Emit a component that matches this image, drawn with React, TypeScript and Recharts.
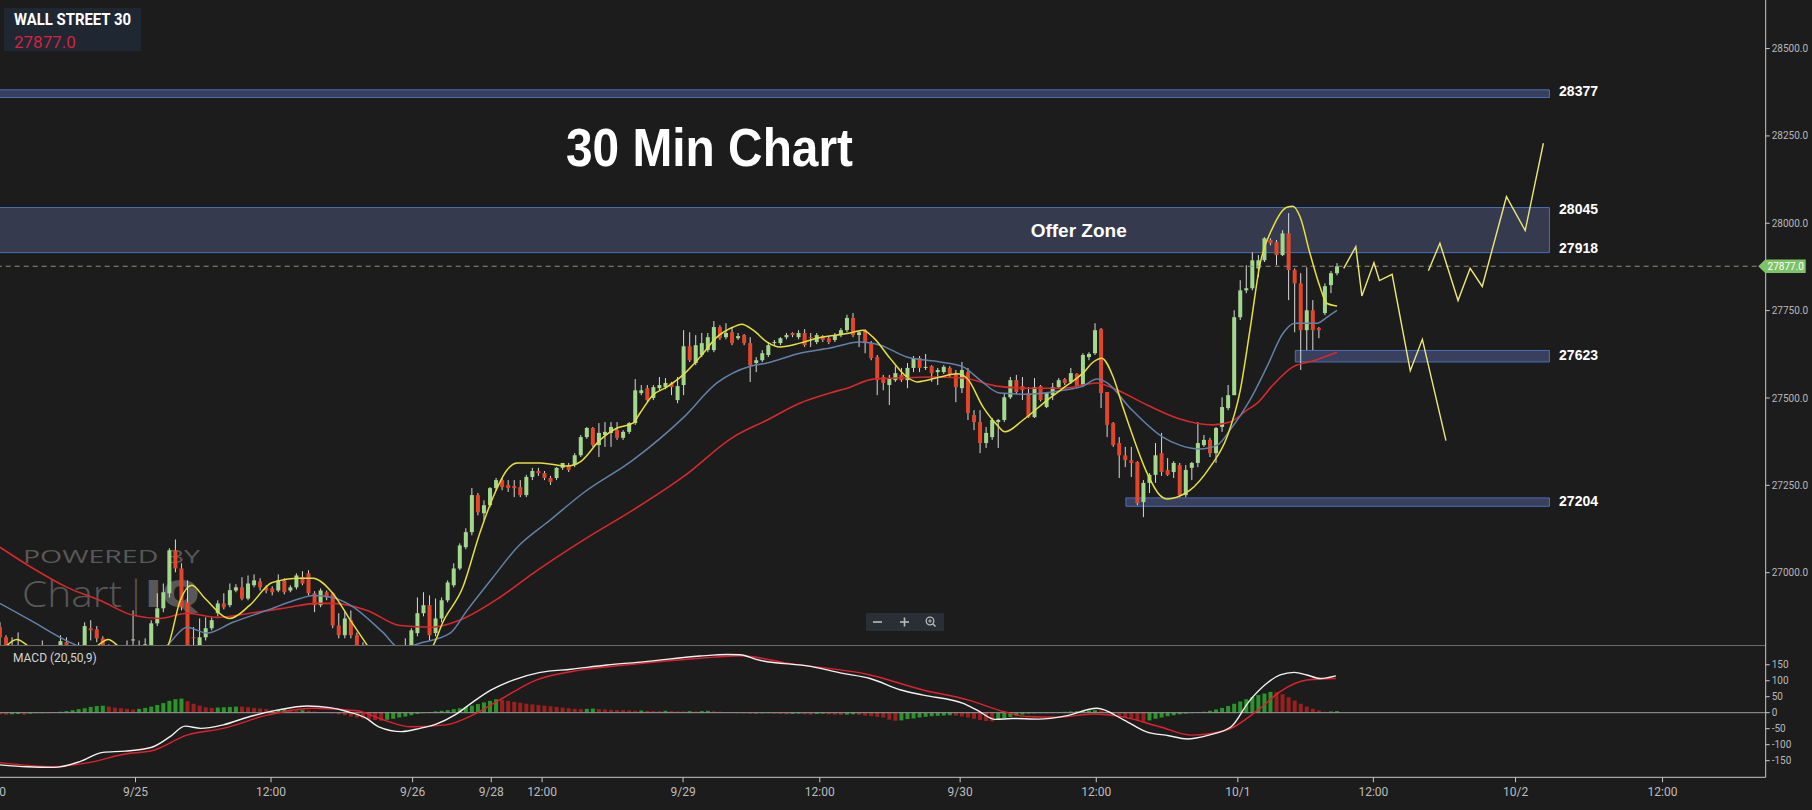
import React from 'react';
import { ComposedChart, Bar, Line, XAxis, YAxis, ReferenceArea, ReferenceLine, ReferenceDot, Cell } from 'recharts';

// ---------- data ----------
// 30-min candles: [open, high, low, close]
const candles: number[][] = [
  [26844,26858,26778,26815],[26815,26821,26764,26784],[26772,26815,26749,26789],[26764,26829,26735,26784],[26778,26792,26735,26764],
  [26764,26784,26721,26749],[26749,26778,26721,26764],[26764,26806,26735,26778],[26778,26792,26744,26764],[26764,26789,26735,26778],
  [26778,26821,26764,26804],[26801,26815,26764,26784],[26784,26792,26749,26772],[26772,26801,26744,26784],[26784,26858,26764,26847],
  [26841,26864,26806,26835],[26838,26847,26801,26812],[26812,26818,26772,26786],[26786,26795,26749,26772],[26772,26784,26735,26761],
  [26761,26784,26726,26772],[26772,26806,26749,26784],[26806,26892,26778,26809],[26792,26806,26749,26778],[26778,26812,26755,26795],
  [26789,26864,26778,26855],[26855,26941,26847,26898],[26898,26969,26887,26944],[26941,27070,26929,27064],[27064,27095,27001,27012],
  [27012,27027,26892,26901],[26915,26978,26772,26786],[26815,26844,26778,26812],[26792,26869,26778,26815],[26815,26872,26806,26841],
  [26841,26872,26835,26864],[26884,26921,26875,26912],[26912,26941,26895,26901],[26907,26969,26901,26950],[26949,26967,26944,26958],
  [26958,26987,26921,26926],[26926,26992,26921,26969],[26964,26995,26958,26978],[26975,26984,26949,26958],[26958,26964,26941,26949],
  [26955,26961,26935,26944],[26949,26995,26944,26978],[26978,26984,26938,26944],[26949,26964,26944,26958],[26958,26998,26952,26992],
  [26987,27004,26964,26969],[26998,27007,26935,26941],[26941,26947,26887,26907],[26907,26955,26901,26949],[26944,26949,26921,26929],
  [26941,26944,26841,26849],[26849,26884,26812,26821],[26821,26889,26812,26869],[26864,26892,26812,26821],[26821,26829,26772,26786],
  [26786,26801,26735,26749],[26749,26772,26706,26726],[26726,26764,26698,26744],[26744,26761,26692,26721],[26721,26749,26698,26735],
  [26735,26772,26715,26749],[26749,26784,26735,26772],[26772,26812,26755,26784],[26792,26841,26784,26835],[26827,26929,26818,26884],
  [26884,26944,26875,26907],[26907,26935,26806,26821],[26827,26926,26818,26869],[26869,26929,26858,26921],[26921,26978,26915,26972],
  [26964,27027,26958,27012],[27012,27084,27007,27078],[27073,27127,27067,27116],[27116,27242,27107,27222],[27222,27228,27164,27173],
  [27170,27207,27150,27193],[27193,27245,27187,27242],[27242,27271,27236,27265],[27265,27271,27236,27245],[27251,27265,27231,27242],
  [27248,27265,27216,27242],[27245,27265,27216,27222],[27222,27280,27216,27274],[27274,27300,27265,27291],[27291,27300,27277,27285],
  [27285,27291,27265,27271],[27271,27277,27251,27260],[27271,27302,27265,27300],[27300,27314,27294,27314],[27308,27314,27288,27294],
  [27308,27342,27302,27336],[27336,27394,27331,27388],[27388,27417,27383,27414],[27414,27417,27360,27365],[27365,27428,27331,27400],
  [27394,27431,27360,27403],[27400,27431,27360,27417],[27408,27431,27380,27386],[27386,27408,27380,27403],[27403,27431,27397,27428],
  [27428,27554,27423,27522],[27514,27537,27508,27522],[27528,27537,27488,27494],[27500,27537,27494,27531],[27528,27560,27522,27537],
  [27531,27557,27525,27543],[27543,27546,27508,27531],[27494,27560,27485,27534],[27537,27694,27508,27648],[27648,27688,27603,27608],
  [27600,27680,27594,27651],[27623,27686,27617,27657],[27637,27686,27631,27674],[27637,27720,27631,27703],[27703,27708,27666,27671],
  [27674,27714,27668,27686],[27688,27700,27651,27657],[27671,27686,27666,27677],[27680,27683,27651,27657],[27657,27674,27546,27594],
  [27600,27617,27574,27608],[27608,27637,27603,27628],[27623,27660,27617,27651],[27657,27666,27651,27660],[27657,27674,27651,27671],
  [27674,27686,27668,27680],[27686,27688,27674,27680],[27674,27694,27668,27686],[27686,27697,27646,27651],[27674,27686,27646,27671],
  [27660,27686,27654,27680],[27677,27680,27660,27666],[27671,27677,27654,27660],[27666,27686,27660,27680],[27680,27700,27674,27694],
  [27694,27738,27688,27729],[27729,27743,27674,27680],[27680,27694,27646,27688],[27694,27697,27628,27657],[27657,27663,27608,27614],
  [27617,27623,27508,27551],[27560,27566,27522,27543],[27537,27566,27480,27557],[27551,27591,27546,27571],[27566,27586,27546,27551],
  [27551,27600,27528,27586],[27586,27620,27574,27614],[27614,27620,27574,27586],[27586,27626,27580,27589],[27591,27594,27546,27571],
  [27574,27586,27537,27580],[27574,27594,27569,27589],[27586,27591,27560,27566],[27571,27580,27488,27531],[27528,27603,27514,27580],
  [27574,27586,27437,27457],[27451,27465,27408,27431],[27431,27465,27342,27371],[27371,27417,27357,27400],[27388,27443,27380,27437],
  [27431,27440,27357,27437],[27437,27514,27431,27502],[27502,27560,27497,27551],[27551,27566,27511,27517],[27534,27560,27494,27522],
  [27514,27531,27443,27445],[27445,27557,27443,27531],[27534,27537,27490,27494],[27474,27517,27471,27514],[27508,27543,27494,27531],
  [27531,27557,27528,27551],[27554,27557,27537,27543],[27546,27586,27540,27571],[27569,27571,27528,27531],[27537,27628,27531,27623],
  [27617,27631,27608,27626],[27628,27714,27623,27694],[27697,27700,27471,27514],[27517,27517,27388,27423],[27428,27431,27360,27365],
  [27371,27388,27271,27336],[27336,27360,27302,27322],[27322,27360,27274,27314],[27317,27319,27193,27199],[27202,27265,27159,27257],
  [27257,27285,27228,27280],[27280,27371,27257,27336],[27342,27400,27277,27288],[27294,27328,27277,27280],[27288,27319,27271,27314],
  [27308,27314,27216,27222],[27222,27308,27216,27294],[27300,27317,27265,27314],[27314,27431,27302,27371],[27365,27394,27360,27380],
  [27380,27386,27331,27342],[27342,27417,27314,27414],[27417,27502,27403,27474],[27471,27537,27465,27508],[27508,27751,27508,27731],
  [27731,27837,27723,27808],[27808,27880,27800,27814],[27814,27917,27808,27894],[27871,27909,27846,27894],[27894,27960,27889,27957],
  [27952,27957,27937,27943],[27946,27952,27880,27909],[27909,27980,27906,27971],[27971,28029,27780,27866],[27866,27871,27688,27828],
  [27828,27857,27580,27694],[27694,27874,27637,27751],[27751,27780,27637,27694],[27700,27703,27671,27694],[27743,27828,27737,27820],
  [27823,27863,27800,27857],[27857,27886,27851,27877],
];

// moving averages: [bar index, price]
const yellowMA: number[][] = [
  [0,26764],[1.2,26792],[2.8,26809],[4.5,26792],[7.4,26744],[12.4,26749],[15.7,26786],[17.9,26809],[19.8,26786],[23.1,26749],
  [26.4,26764],[27.8,26792],[29.8,26921],[31.7,26964],[33.9,26926],[38,26869],[41.3,26907],[45,26972],[49.6,26984],[51.7,26984],
  [55,26941],[57.9,26864],[60.7,26792],[62.8,26735],[67.8,26735],[71.6,26792],[73.2,26858],[76.5,26958],[79.3,27113],[81.5,27216],
  [83.8,27294],[85.5,27314],[89.3,27314],[93.7,27305],[95.9,27317],[99.2,27380],[102,27414],[104.6,27428],[105.8,27457],[107.9,27508],
  [110.2,27531],[112.9,27566],[115.7,27617],[118.5,27674],[121.2,27703],[122.6,27711],[124.5,27694],[126.8,27660],[128.9,27646],[132.2,27657],
  [135,27671],[140.5,27686],[142.6,27694],[144.3,27674],[147.1,27614],[149.9,27560],[151.6,27546],[155.4,27560],[158.2,27569],[159.8,27557],
  [162.5,27474],[164.8,27423],[166.1,27403],[169.1,27437],[173.1,27494],[176.9,27543],[179,27571],[180.7,27603],[182.1,27614],[184,27560],
  [185.6,27474],[187.3,27388],[189.6,27285],[191.7,27222],[192.9,27211],[194.5,27216],[196.7,27236],[200,27302],[202.8,27388],[205,27522],
  [206.6,27694],[208.3,27886],[210.4,27989],[212.7,28046],[213.7,28049],[214.9,28018],[216.5,27915],[218.2,27817],[219.3,27771],[221,27763],
];
const blueMA: number[][] = [
  [0,26912],[5,26864],[9.9,26815],[13.7,26784],[19.8,26749],[24.8,26764],[27.6,26792],[30.9,26844],[34.2,26827],[38.5,26858],
  [44.1,26892],[49.6,26926],[51.7,26935],[55,26929],[57.9,26907],[63.3,26829],[66.1,26784],[69.4,26798],[74.4,26827],[77.2,26892],
  [81.5,26987],[85.5,27073],[90.9,27150],[96.4,27228],[104.6,27322],[112.9,27443],[118.5,27543],[124,27591],[126.8,27600],[132.2,27628],
  [137.2,27643],[142.1,27660],[145.5,27651],[149.9,27617],[155.4,27603],[159.2,27589],[162,27551],[165.3,27514],[170.2,27511],[175.7,27522],
  [179,27534],[181.3,27554],[183,27543],[186.8,27471],[192.2,27388],[195,27365],[198.3,27354],[201.2,27365],[203.3,27408],[206.6,27494],
  [209.4,27589],[212.1,27686],[214,27714],[217.7,27714],[219.3,27731],[221,27751],
];
const redMA: number[][] = [
  [0,27073],[5.5,27012],[11.1,26958],[16.5,26921],[22,26878],[26.4,26869],[30.9,26884],[35.9,26872],[41.3,26884],[46.8,26898],
  [52.4,26912],[55,26912],[60.7,26892],[66.1,26849],[71.6,26844],[76,26864],[82.6,26929],[88.1,26998],[96.4,27093],[104.6,27179],
  [112.9,27274],[121.2,27388],[126.8,27437],[132.2,27485],[137.2,27514],[140.5,27531],[144.3,27554],[148.3,27557],[153.7,27560],[159.2,27557],
  [164.8,27534],[170.2,27528],[175.7,27528],[181.3,27543],[184,27528],[189.6,27480],[195,27440],[200.5,27423],[203.3,27431],[206.1,27465],
  [207.8,27485],[210.4,27537],[213.7,27589],[217,27606],[221,27631],
];

// hand-drawn projection paths: [bar index, price]
const projectionA: number[][] = [
  [222.1,27871],[224.1,27933],[225.1,27792],[227.1,27887],[228,27836],[230.1,27854],[233.1,27578],[235.1,27668],[239,27378],
];
const projectionB: number[][] = [
  [236.1,27864],[238,27943],[241,27779],[243,27871],[245,27819],[249,28076],[252.1,27979],[255.1,28229],
];

// MACD (20,50,9)
const macdLine: number[][] = [
  [0,-163],[4.5,-169],[8.9,-171],[13.2,-153],[17,-124],[20.7,-120],[25.1,-108],[28.1,-75],[30.6,-42],[33.2,-49],
  [36.9,-38],[41.3,-12],[45.8,8],[50.9,21],[54.5,16],[57.5,3],[60.5,-17],[62.6,-44],[66.4,-59],[69.4,-49],
  [72.2,-35],[75.2,-7],[78.2,34],[81.2,71],[84.8,102],[89.3,126],[94.4,136],[100.3,149],[106.3,159],[115.7,177],
  [120.2,182],[122.3,181],[125.3,165],[134.2,144],[139.3,123],[143.8,107],[148.9,71],[152.6,55],[159.2,29],[161.5,8],
  [164.5,-21],[167.3,-18],[171.7,-20],[176.2,-10],[181.3,14],[185.8,-23],[189.4,-59],[193.2,-72],[196.2,-82],[199.8,-70],
  [203.5,-44],[206.4,34],[209.4,92],[211.6,118],[213.9,126],[216,118],[218.2,107],[220.8,115],
];
const signalLine: number[][] = [
  [0,-156],[8.9,-169],[14.7,-156],[20.7,-129],[25.1,-119],[30.9,-70],[36.9,-49],[44.3,-7],[51.6,14],[59,6],
  [63.5,-23],[67.9,-44],[73.7,-38],[78.2,-7],[82.6,40],[88.6,102],[95.9,133],[103.3,149],[115.7,170],[122.3,178],
  [130.4,154],[143.8,118],[152.6,71],[160,40],[166,3],[169.6,-12],[174.7,-14],[180.7,-4],[185.8,-14],[191.7,-44],
  [196.9,-70],[202.8,-54],[207.9,8],[211.6,66],[216,102],[220.8,107],
];
const macdHist: number[] = [
  -5,-6,-5,-4,-6,-3,-1,0,0,1,
  3,5,8,11,14,18,21,22,19,16,
  14,12,10,12,15,19,24,30,37,42,
  44,36,28,22,17,15,16,17,18,19,
  19,17,15,13,11,9,10,11,9,7,
  8,6,4,2,1,-2,-5,-8,-12,-15,
  -18,-21,-23,-25,-22,-19,-15,-12,-8,-4,
  -1,2,4,6,8,11,14,18,22,27,
  32,37,42,40,37,34,31,28,26,24,
  22,20,18,16,14,12,11,12,13,11,
  10,9,8,8,7,6,7,6,5,5,
  6,5,4,4,5,4,5,6,4,3,
  2,1,-1,-2,-3,-4,-2,-1,-3,-4,
  -5,-4,-3,-5,-6,-4,-3,-5,-6,-7,
  -6,-5,-7,-9,-11,-13,-15,-22,-25,-24,
  -20,-18,-15,-13,-11,-10,-9,-8,-9,-12,
  -15,-19,-23,-26,-27,-22,-17,-13,-9,-6,
  -3,-2,-1,0,1,2,3,4,5,6,
  7,8,6,2,-4,-9,-14,-18,-23,-28,
  -24,-19,-15,-11,-8,-5,-3,-1,1,3,
  6,10,15,21,28,35,42,49,55,60,
  65,64,58,48,38,28,19,12,7,3,
  4,5,
];

// axis ticks
const timeTickPos = [22.4, 44.8, 68.2, 81.2, 89.6, 112.9, 135.5, 158.7, 181.2, 204.6, 227.0, 250.5, 274.8];
const timeTickLabels = ['9/25', '12:00', '9/26', '9/28', '12:00', '9/29', '12:00', '9/30', '12:00', '10/1', '12:00', '10/2', '12:00'];
const priceTicks = [27000, 27250, 27500, 27750, 28000, 28250, 28500];
const macdTicks = [-150, -100, -50, 0, 50, 100, 150];

// zones: [x1, x2, lowPrice, highPrice]
const zoneBands: number[][] = [
  [-3, 256.1, 28360, 28382],
  [-3, 256.1, 27916, 28045],
  [214.1, 256.1, 27603, 27636],
  [186.1, 256.1, 27190, 27214],
];
const levelLabels = ['28377', '28045', '27918', '27623', '27204'];
const levelLabelPrices = [28377, 28040, 27928, 27623, 27204];
const lastPrice = 27877;

// ---------- layout ----------
const W = 1812;
const MAIN_H = 645;
const MACD_H = 165;
const AXIS_W = 46.3;
const X_MAX = 291.85;
const Y_MIN = 26793;
const Y_MAX = 28639;
const M_MIN = -201.9;
const M_MAX = 211.6;
const LABEL_X = 257.7;

const BG = '#1c1c1c';
const AXIS_COLOR = '#c9c9c9';
const TICK_FONT = { fill: '#b8b8b8', fontSize: 10, fontFamily: 'Roboto' };

const candleData = candles.map(([o, h, l, c], i) => ({ t: i, o, h, l, c, range: [l, h] }));
const pts = (arr: number[][]) => arr.map(([t, v]) => ({ t, v }));
const histData = macdHist.map((h, i) => ({ t: i, h }));

const CandleShape = (props: any) => {
  const { x, y, width, height, payload } = props;
  if (!payload || x == null || y == null) return null;
  const { o, h, l, c } = payload;
  const top = Math.min(y, y + height);
  const bottom = Math.max(y, y + height);
  const span = h - l;
  const toY = (p: number) => (span === 0 ? top : top + ((h - p) / span) * (bottom - top));
  const cx = x + width / 2;
  const up = c >= o;
  const bTop = toY(Math.max(o, c));
  const bBot = toY(Math.min(o, c));
  return (
    <g>
      <line x1={cx} x2={cx} y1={top} y2={bottom} stroke="#d9d9d9" strokeWidth={1} />
      <rect x={cx - 2} y={bTop} width={4} height={Math.max(1, bBot - bTop)} fill={up ? '#a2d88c' : '#e2452a'} />
    </g>
  );
};

const HistShape = (props: any) => {
  const { x, y, width, height, fill } = props;
  if (x == null || y == null) return null;
  const top = Math.min(y, y + height);
  const h = Math.abs(height);
  const cx = x + width / 2;
  return <rect x={cx - 2} y={top} width={4} height={Math.max(0.5, h)} fill={fill} />;
};

const levelText = (text: string) => (p: any) => (
  <text x={p.cx} y={p.cy} dy="0.35em" fill="#ffffff" fontSize={14} fontWeight={700} fontFamily="Liberation Sans, Arial, sans-serif">
    {text}
  </text>
);

const priceTag = (p: any) => {
  const x = p.cx;
  const y = p.cy;
  return (
    <g>
      <polygon
        points={`${x - 7.5},${y} ${x - 0.5},${y - 6.8} ${x + 40},${y - 6.8} ${x + 40},${y + 6.8} ${x - 0.5},${y + 6.8}`}
        fill="#7cc466"
      />
      <text x={x + 20} y={y} dy="0.35em" textAnchor="middle" fill="#ffffff" fontSize={10} fontFamily="Roboto">
        {lastPrice.toFixed(1)}
      </text>
    </g>
  );
};

const lineCommon = { dot: false, activeDot: false, isAnimationActive: false } as const;

export default function App() {
  return (
    <div style={{ position: 'relative', width: W, height: 810, background: BG, overflow: 'hidden' }}>
      <style>{`body{margin:0;background:${BG};}`}</style>

      {/* watermark (behind the chart) */}
      <svg style={{ position: 'absolute', left: 0, top: 0 }} width={W} height={810}>
        <text x={23} y={563} fill="#585858" fontSize={19} fontFamily="Open Sans" textLength={177} lengthAdjust="spacingAndGlyphs">
          POWERED BY
        </text>
        <text x={22} y={607} fill="#585858" fontSize={37} fontWeight={300} fontFamily="Open Sans">
          <tspan textLength={100} lengthAdjust="spacingAndGlyphs">Chart</tspan>
          <tspan x={126}>|</tspan>
          <tspan x={145} fontWeight={800} textLength={55} lengthAdjust="spacingAndGlyphs">IQ</tspan>
        </text>
      </svg>

      {/* price panel */}
      <div style={{ position: 'absolute', left: 0, top: 0 }}>
        <ComposedChart width={W} height={MAIN_H} data={candleData} margin={{ top: 0, right: 0, bottom: 0, left: 0 }}>
          <XAxis dataKey="t" type="number" domain={[0, X_MAX]} allowDataOverflow hide />
          <YAxis
            orientation="right"
            type="number"
            domain={[Y_MIN, Y_MAX]}
            allowDataOverflow
            ticks={priceTicks}
            interval={0}
            width={AXIS_W}
            tickFormatter={(v: number) => v.toFixed(1)}
            axisLine={{ stroke: AXIS_COLOR }}
            tickLine={{ stroke: AXIS_COLOR }}
            tickSize={4}
            tickMargin={2}
            tick={TICK_FONT}
          />
          {zoneBands.map(([x1, x2, y1, y2], i) => (
            <ReferenceArea
              key={`z${i}`}
              x1={x1}
              x2={x2}
              y1={y1}
              y2={y2}
              ifOverflow="hidden"
              fill={i === 1 ? '#3a3f57' : '#3d4768'}
              fillOpacity={0.85}
              stroke="#4b6fb6"
              strokeWidth={1}
            />
          ))}
          <ReferenceLine y={lastPrice} stroke="#8e8e80" strokeDasharray="5 4" strokeWidth={1} />
          <Bar dataKey="range" barSize={5} isAnimationActive={false} shape={(p: any) => <CandleShape {...p} />} />
          <Line data={pts(redMA)} dataKey="v" type="monotone" stroke="#d8282c" strokeWidth={1.6} {...lineCommon} />
          <Line data={pts(blueMA)} dataKey="v" type="monotone" stroke="#6381a8" strokeWidth={1.5} {...lineCommon} />
          <Line data={pts(yellowMA)} dataKey="v" type="monotone" stroke="#e6e03c" strokeWidth={1.5} {...lineCommon} />
          <Line data={pts(projectionA)} dataKey="v" type="linear" stroke="#ece878" strokeWidth={1.4} {...lineCommon} />
          <Line data={pts(projectionB)} dataKey="v" type="linear" stroke="#ece878" strokeWidth={1.4} {...lineCommon} />
          {levelLabels.map((txt, i) => (
            <ReferenceDot key={`l${i}`} x={LABEL_X} y={levelLabelPrices[i]} r={0} ifOverflow="visible" shape={levelText(txt)} />
          ))}
          <ReferenceDot
            x={178.3}
            y={27980}
            r={0}
            ifOverflow="visible"
            shape={(p: any) => (
              <text x={p.cx} y={p.cy} dy="0.35em" textAnchor="middle" fill="#ffffff" fontSize={19} fontWeight={700} fontFamily="Liberation Sans, Arial, sans-serif">
                Offer Zone
              </text>
            )}
          />
          <ReferenceDot x={X_MAX} y={lastPrice} r={0} ifOverflow="visible" shape={priceTag} />
        </ComposedChart>
      </div>

      {/* MACD panel */}
      <div style={{ position: 'absolute', left: 0, top: MAIN_H }}>
        <ComposedChart width={W} height={MACD_H} data={histData} margin={{ top: 0, right: 0, bottom: 0, left: 0 }}>
          <XAxis
            dataKey="t"
            type="number"
            domain={[0, X_MAX]}
            allowDataOverflow
            ticks={timeTickPos}
            interval={0}
            height={32.7}
            tickFormatter={(v: number) => timeTickLabels[timeTickPos.indexOf(v)] ?? ''}
            axisLine={{ stroke: AXIS_COLOR }}
            tickLine={{ stroke: AXIS_COLOR }}
            tickSize={5}
            tickMargin={5}
            tick={{ fill: '#bdbdbd', fontSize: 12, fontFamily: 'Roboto' }}
          />
          <YAxis
            orientation="right"
            type="number"
            domain={[M_MIN, M_MAX]}
            allowDataOverflow
            ticks={macdTicks}
            interval={0}
            width={AXIS_W}
            axisLine={{ stroke: AXIS_COLOR }}
            tickLine={{ stroke: AXIS_COLOR }}
            tickSize={4}
            tickMargin={2}
            tick={TICK_FONT}
          />
          <ReferenceLine y={M_MAX - 1.5} stroke="#6e6e6e" strokeWidth={1} />
          <Bar dataKey="h" barSize={4} isAnimationActive={false} shape={(p: any) => <HistShape {...p} />}>
            {histData.map((d, i) => (
              <Cell key={`h${i}`} fill={i > 0 && d.h > histData[i - 1].h ? '#2b952b' : '#9a2020'} />
            ))}
          </Bar>
          <ReferenceLine y={0} stroke="#9c9c9c" strokeWidth={1} />
          <Line data={pts(signalLine)} dataKey="v" type="monotone" stroke="#e3202f" strokeWidth={1.4} {...lineCommon} />
          <Line data={pts(macdLine)} dataKey="v" type="monotone" stroke="#f2f2f2" strokeWidth={1.4} {...lineCommon} />
        </ComposedChart>
      </div>

      {/* overlays: title, info box, panel label, zoom controls */}
      <svg style={{ position: 'absolute', left: 0, top: 0, pointerEvents: 'none' }} width={W} height={810}>
        <rect x={4} y={8} width={137} height={43} fill="#1f2733" />
        <text x={14} y={25} fill="#ffffff" fontSize={16} fontWeight={700} fontFamily="Roboto" textLength={117} lengthAdjust="spacingAndGlyphs">
          WALL STREET 30
        </text>
        <text x={14} y={47.5} fill="#d6213f" fontSize={17} fontFamily="Roboto">
          27877.0
        </text>
        <text x={566} y={166} fill="#ffffff" fontSize={53} fontWeight={700} fontFamily="Liberation Sans, Arial, sans-serif" textLength={287} lengthAdjust="spacingAndGlyphs">
          30 Min Chart
        </text>
        <text x={13} y={662} fill="#d4d4d4" fontSize={12} fontFamily="Roboto">
          MACD (20,50,9)
        </text>
        <text x={-9} y={796} textAnchor="middle" fill="#bdbdbd" fontSize={12} fontFamily="Roboto">
          12:00
        </text>
        <rect x={866} y={613} width={78} height={18} fill="#2a2f36" rx={1} />
        <line x1={873} x2={882} y1={622} y2={622} stroke="#b9b9b9" strokeWidth={1.6} />
        <line x1={900} x2={909} y1={622} y2={622} stroke="#b9b9b9" strokeWidth={1.6} />
        <line x1={904.5} x2={904.5} y1={617.5} y2={626.5} stroke="#b9b9b9" strokeWidth={1.6} />
        <circle cx={930} cy={621} r={3.8} fill="none" stroke="#b9b9b9" strokeWidth={1.3} />
        <line x1={932.8} x2={935.5} y1={623.8} y2={626.5} stroke="#b9b9b9" strokeWidth={1.5} />
        <line x1={928.2} x2={931.8} y1={621} y2={621} stroke="#b9b9b9" strokeWidth={1} />
        <line x1={930} x2={930} y1={619.2} y2={622.8} stroke="#b9b9b9" strokeWidth={1} />
      </svg>
    </div>
  );
}
